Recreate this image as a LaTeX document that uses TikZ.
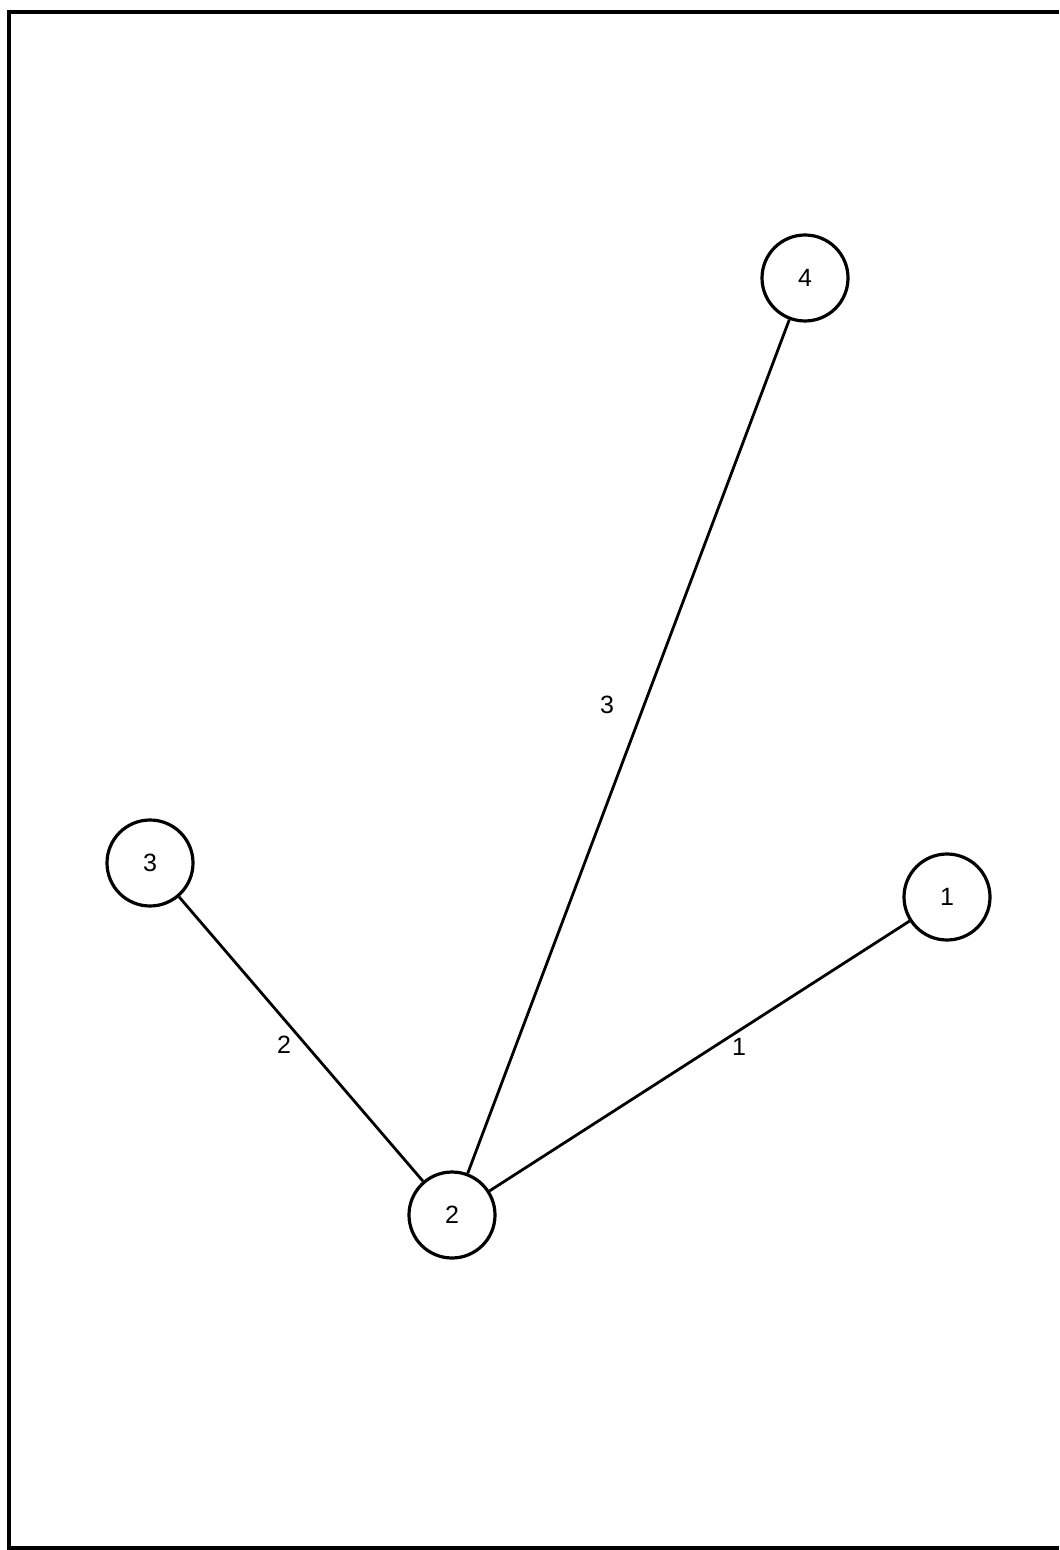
\documentclass[tikz,border=0pt]{standalone}
\usepackage{fontspec}
\setmainfont{Liberation Sans}
\begin{document}
\begin{tikzpicture}[x=0.5pt,y=-0.5pt,
  vert/.style={circle,draw,line width=1.6pt,minimum size=43pt,inner sep=0pt,font=\fontsize{12.5}{14}\selectfont},
  edge/.style={line width=1.4pt},
  elabel/.style={font=\fontsize{12.5}{14}\selectfont,inner sep=0pt},
  frame/.style={line width=2pt}]
\useasboundingbox (0,0) rectangle (1059,1550);
\coordinate (tl) at (9,12);
\coordinate (tr) at (1059,12);
\coordinate (bl) at (9,1548);
\coordinate (br) at (1059,1548);
\draw[frame] (tr) -- (tl) -- (bl) -- (br);
\node[vert] (n4) at (805,278) {4};
\node[vert] (n3) at (150,863) {3};
\node[vert] (n1) at (947,897) {1};
\node[vert] (n2) at (452,1215) {2};
\draw[edge] (n4) -- (n2);
\draw[edge] (n3) -- (n2);
\draw[edge] (n1) -- (n2);
\node[elabel] (l3) at (607,705) {3};
\node[elabel] (l2) at (284,1045) {2};
\node[elabel] (l1) at (739,1047) {1};
\end{tikzpicture}
\end{document}
